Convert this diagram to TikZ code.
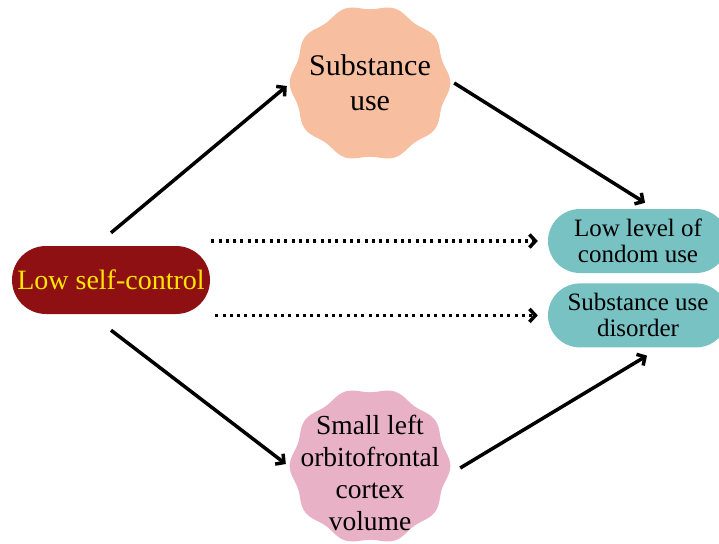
\documentclass[tikz,border=0pt]{standalone}
\usepackage{fontspec}
\setmainfont{Liberation Serif}
\usepackage{tikz}
\usetikzlibrary{arrows.meta, positioning, shapes.geometric}
\definecolor{peach}{RGB}{247,190,160}
\definecolor{rose}{RGB}{232,177,197}
\definecolor{tealbox}{RGB}{121,194,196}
\definecolor{darkred}{RGB}{142,16,19}
\definecolor{yellowtxt}{RGB}{255,230,0}

\begin{document}
\begin{tikzpicture}[x=1pt, y=-1pt,
  cause/.style={fill=darkred, rounded corners=34pt, minimum width=198pt,
    minimum height=68pt, text=yellowtxt, font=\fontsize{28}{32}\selectfont,
    inner sep=0pt},
  outcome/.style={fill=tealbox, rounded corners=32pt, minimum width=180pt,
    minimum height=64pt, align=center, inner sep=0pt},
  blob/.style={minimum width=156pt, minimum height=152pt,
    align=center, inner sep=0pt},
  arr/.style={-{Straight Barb[length=6pt, width=13pt]}, line width=3.5pt},
  dotarr/.style={arr, dash pattern=on 3pt off 4.3pt}
]
\clip (0,0) rectangle (719,543);
% Wavy backgrounds
\fill[peach, shift={(370,83)}] plot[smooth cycle, samples=80, domain=0:355.5]
  ({78*(1+0.03*cos(10*\x))*cos(\x)}, {76*(1+0.03*cos(10*\x))*sin(\x)});
\fill[rose, shift={(370,466)}] plot[smooth cycle, samples=80, domain=0:355.5]
  ({78*(1+0.03*cos(10*\x))*cos(\x)}, {76*(1+0.03*cos(10*\x))*sin(\x)});
% Nodes
\node[cause] (self) at (111,280) {Low self-control};
\node[blob, font=\fontsize{30}{35}\selectfont] (use) at (370,83)
  {Substance\\use};
\node[blob, font=\fontsize{27.5}{32}\selectfont] (ofc) at (370,473)
  {Small left\\orbitofrontal\\cortex\\volume};
\node[outcome, font=\fontsize{25}{26}\selectfont] (cond) at (638,241)
  {Low level of\\condom use};
\node[outcome, font=\fontsize{25}{26}\selectfont, below=10pt of cond] (sud)
  {Substance use\\disorder};
% Arrows
\draw[arr] ([yshift=13pt]self.north) -- ([shift={(-5pt,-3pt)}]use.west);
\draw[arr] ([shift={(6pt,0pt)}]use.east) -- ([shift={(7pt,6pt)}]cond.north);
\draw[dotarr] ([xshift=1pt]self.east |- cond.west) -- ([xshift=-10pt]cond.west);
\draw[dotarr] ([xshift=5pt]self.east |- sud.west) -- ([xshift=-10pt]sud.west);
\draw[arr] ([yshift=-16pt]self.south) -- ([shift={(-6pt,9pt)}]ofc.west);
\draw[arr] ([shift={(12pt,5pt)}]ofc.east) -- ([shift={(9pt,-8pt)}]sud.south);
\end{tikzpicture}
\end{document}
